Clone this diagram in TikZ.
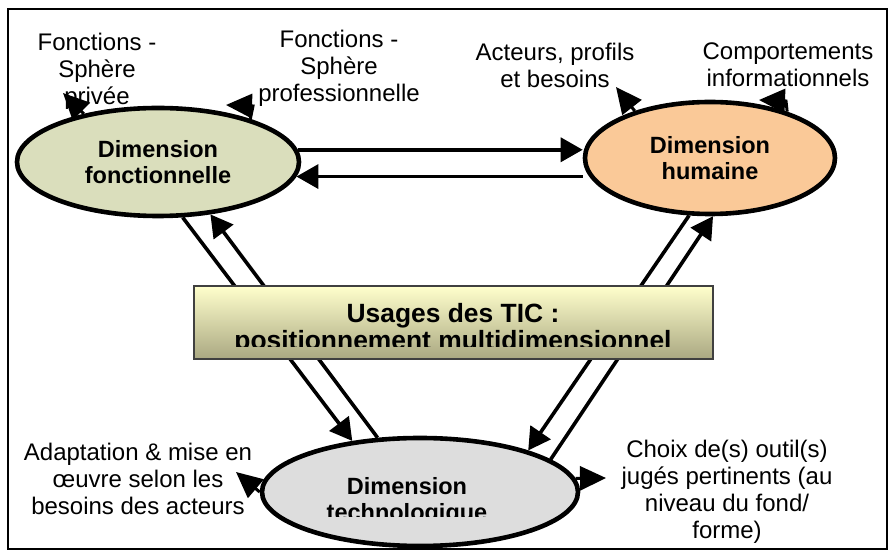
\documentclass[tikz,border=0pt]{standalone}
\usepackage{fontspec}
\setmainfont{Liberation Sans}
\usetikzlibrary{shapes.geometric,arrows.meta}
\definecolor{fongreen}{RGB}{218,222,188}
\definecolor{humpeach}{RGB}{250,201,152}
\definecolor{techgray}{RGB}{221,221,221}
\definecolor{boxtop}{RGB}{255,255,204}
\definecolor{boxbot}{RGB}{170,168,130}
\tikzset{
  dim/.style={ellipse,draw,line width=2.3pt,inner sep=0pt,align=center,
    font=\fontsize{11.75}{13}\selectfont\bfseries},
  lbl/.style={anchor=north,align=center,inner sep=0pt,
    font=\fontsize{12}{13.5}\selectfont},
  link/.style={line width=1.8pt,-{Triangle[length=11pt,width=12pt]}},
  stub/.style={line width=1.5pt,-{Triangle[length=13pt,width=12pt]}},
  usagebox/.style={draw=black!75,line width=1pt,shading=axis,
    top color=boxtop,bottom color=boxbot,minimum width=259.5pt,minimum height=36.5pt}
}
\begin{document}
\begin{tikzpicture}[x=0.5pt,y=-0.5pt]
\useasboundingbox (0,0) rectangle (896,555);
\draw[line width=0.8pt] (8,9) rectangle (887,549);

\node[dim,fill=fongreen,minimum width=141pt,minimum height=54pt] (fon) at (158,162) {Dimension\\fonctionnelle};
\node[dim,fill=humpeach,minimum width=125pt,minimum height=56pt] (hum) at (710,158) {Dimension\\humaine};
\node[dim,fill=techgray,minimum width=158pt,minimum height=54pt] (tech) at (420,492) {};
\begin{scope}
\clip (300,470) rectangle (540,517);
\node[anchor=north,inner sep=0pt,align=center,font=\fontsize{11.75}{13}\selectfont\bfseries] (techlbl) at (407,477) {Dimension\\technologique};
\end{scope}

\node[lbl] (priv) at (97,33) {Fonctions -\\Sphère\\privée};
\node[lbl] (pro) at (339,30) {Fonctions -\\Sphère\\professionnelle};
\node[lbl] (act) at (555,43) {Acteurs, profils\\et besoins};
\node[lbl] (comp) at (788,42) {Comportements\\informationnels};
\node[lbl] (adapt) at (138,443) {Adaptation \& mise en\\œuvre selon les\\besoins des acteurs};
\node[lbl] (choix) at (727,440) {Choix de(s) outil(s)\\jugés pertinents (au\\niveau du fond/\\forme)};

\coordinate (tipPriv) at (63,93);
\coordinate (tipPro) at (226,105);
\coordinate (tipAct) at (616,87);
\coordinate (tipComp) at (759,100);
\coordinate (tipAdapt) at (236,472);
\coordinate (tipChoix) at (606,478);
\draw[stub] (fon.147) -- (tipPriv);
\draw[stub] (fon.25) -- (253,106) -- (tipPro);
\draw[stub] (hum.148) -- (tipAct);
\draw[stub] (hum.31) -- (786,101) -- (tipComp);
\draw[stub] (tech.west) -- (tipAdapt);
\draw[stub] (tech.5) -- (tipChoix);

\draw[link] (fon.5) -- (fon.5 -| hum.west);
\draw[link] (hum.west |- fon.-6) -- (fon.-6);
\draw[link] (fon.-66) -- (tech.143);
\draw[link] (tech.128) -- (fon.-45);
\draw[link] (hum.-110) -- (tech.21);
\draw[link] (tech.14) -- (hum.-87);

\node[usagebox] (usage) at (453.5,322.5) {};
\begin{scope}
\clip (194,280) rectangle (713,347);
\node[anchor=north,inner sep=0pt,align=center,font=\fontsize{13.2}{13.5}\selectfont\bfseries] (usagetxt) at (453,303) {Usages des TIC :\\positionnement multidimensionnel};
\end{scope}
\end{tikzpicture}
\end{document}
